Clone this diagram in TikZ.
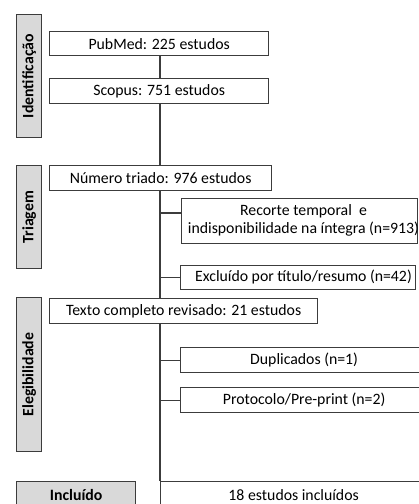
\documentclass[tikz,border=0pt]{standalone}
\usepackage{fontspec}
\setmainfont{Carlito}
\usetikzlibrary{calc}
\definecolor{edge}{HTML}{3C3C3C}
\definecolor{phase}{HTML}{D9D9D9}
\begin{document}
\begin{tikzpicture}[x=1pt,y=-1pt,
  every node/.style={font=\fontsize{15.8}{18}\selectfont},
  box/.style={draw=edge, line width=1.3pt, fill=white, inner sep=0pt, anchor=north west},
  phasebox/.style={draw=edge, line width=1.3pt, fill=phase, inner sep=0pt, anchor=north west,
    font=\fontsize{15.8}{18}\selectfont\bfseries},
  phaselabel/.style={rotate=90, inner sep=0pt, font=\fontsize{15.8}{18}\selectfont\bfseries},
  txt/.style={inner sep=0pt, align=center},
  link/.style={draw=edge, line width=1.3pt}]
\clip (0,0) rectangle (419,504);
\fill[white] (0,0) rectangle (419,504);
\coordinate (spine) at (160,0);

% phase labels on the left
\node[phasebox, minimum width=25, minimum height=123] (idb) at (16,14) {};
\node[phaselabel] (idt) at (idb.center) {Identificação};
\node[phasebox, minimum width=25, minimum height=103] (trb) at (16,165) {};
\node[phaselabel] (trt) at (trb.center) {Triagem};
\node[phasebox, minimum width=25, minimum height=154] (elb) at (16,297) {};
\node[phaselabel] (elt) at (elb.center) {Elegibilidade};
\node[phasebox, minimum width=119, minimum height=26] (inb) at (16,481) {Incluído};

% main column
\node[box, minimum width=219, minimum height=24] (pub) at (49,31) {PubMed: 225 estudos};
\node[box, minimum width=219, minimum height=25] (scop) at (49,78) {Scopus: 751 estudos};
\node[box, minimum width=222, minimum height=25] (num) at (49,165) {Número triado: 976 estudos};
\node[box, minimum width=268, minimum height=25] (full) at (49,298) {Texto completo revisado: 21 estudos};
\node[box, minimum width=266, minimum height=26] (final) at (160,481) {18 estudos incluídos};

% exclusion boxes
\node[box, minimum width=236, minimum height=45] (cut) at (181,198) {};
\node[txt] (cutt) at (303.5,220.5) {Recorte temporal\ \ e\\indisponibilidade na íntegra (n=913)};
\node[box, minimum width=235, minimum height=24] (excl) at (180,265) {};
\node[txt] (exclt) at (303.5,277) {Excluído por título/resumo (n=42)};
\node[box, minimum width=247, minimum height=25] (dup) at (180,347) {Duplicados (n=1)};
\node[box, minimum width=247, minimum height=25] (prot) at (180,387) {Protocolo/Pre-print (n=2)};

% vertical flow
\draw[link] (pub.south -| spine) -- (scop.north -| spine);
\draw[link] (scop.south -| spine) -- (num.north -| spine);
\draw[link] (num.south -| spine) -- (full.north -| spine);
\draw[link] (full.south -| spine) -- (final.north west);

% side branches
\coordinate (cutin) at ($(cut.north west)+(0,15)$);
\draw[link] (cutin) -- (cutin -| spine);
\draw[link] (excl.west) -- (excl.west -| spine);
\draw[link] (dup.west) -- (dup.west -| spine);
\draw[link] (prot.west) -- (prot.west -| spine);
\end{tikzpicture}
\end{document}
